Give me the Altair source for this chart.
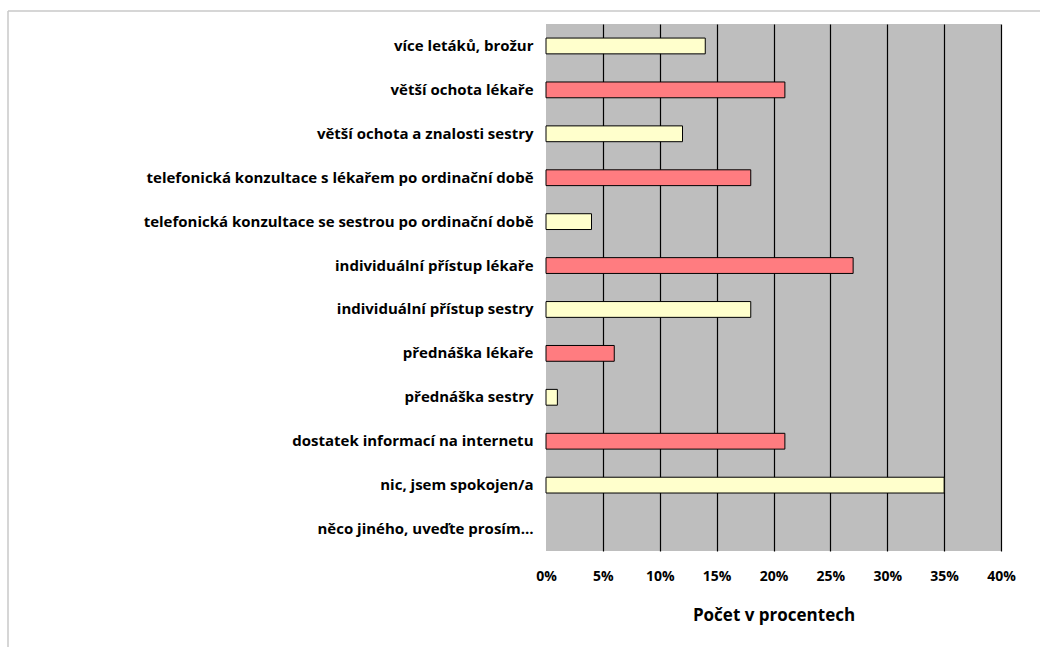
import altair as alt
import pandas as pd

# Survey answers (top to bottom) and share of respondents in percent
answers = [
    "více letáků, brožur",
    "větší ochota lékaře",
    "větší ochota a znalosti sestry",
    "telefonická konzultace s lékařem po ordinační době",
    "telefonická konzultace se sestrou po ordinační době",
    "individuální přístup lékaře",
    "individuální přístup sestry",
    "přednáška lékaře",
    "přednáška sestry",
    "dostatek informací na internetu",
    "nic, jsem spokojen/a",
    "něco jiného, uveďte prosím…",
]
percent = [14, 21, 12, 18, 4, 27, 18, 6, 1, 21, 35, 0]
tick_values = [0, 5, 10, 15, 20, 25, 30, 35, 40]

df = pd.DataFrame({
    "answer": answers,
    "pct": [p / 100 for p in percent],
    "kind": ["a" if i % 2 == 0 else "b" for i in range(len(answers))],
})

FONT = "Open Sans"

bars = alt.Chart(df).mark_bar(strokeWidth=1).encode(
    y=alt.Y(
        "answer:N",
        sort=answers,
        scale=alt.Scale(paddingInner=0.64, paddingOuter=0.32),
        axis=alt.Axis(
            title=None, ticks=False, domain=False, grid=False,
            labelFont=FONT, labelFontWeight="bold", labelFontSize=15,
            labelColor="black", labelPadding=13, labelLimit=600,
        ),
    ),
    x=alt.X(
        "pct:Q",
        scale=alt.Scale(domain=[0, 0.4], nice=False),
        axis=alt.Axis(
            values=[v / 100 for v in tick_values], format=".0%",
            title="Počet v procentech", titleFont=FONT, titleFontWeight="bold",
            titleFontSize=17, titleColor="black", titlePadding=24,
            labelFont=FONT, labelFontWeight="bold", labelFontSize=14,
            labelColor="black", labelPadding=18, labelFlush=False,
            ticks=False, domain=False, grid=True,
            gridColor={"condition": {"test": "datum.value === 0", "value": "transparent"},
                       "value": "black"},
            gridWidth=1.2, gridOpacity=1,
        ),
    ),
    color=alt.Color(
        "kind:N",
        scale=alt.Scale(domain=["a", "b"], range=["#FFFFCC", "#FF7C80"]),
        legend=None,
    ),
    # empty answers get no outline
    stroke=alt.condition("datum.pct > 0", alt.value("black"), alt.value("transparent")),
)

# Light frame around the chart (top and left edges)
frame_top = alt.Chart().mark_rule(color="#C8C8C8", strokeWidth=1.5).encode(
    x=alt.value(-538), x2=alt.value(494), y=alt.value(-13)
)
frame_left = alt.Chart().mark_rule(color="#C8C8C8", strokeWidth=1.5).encode(
    x=alt.value(-538), y=alt.value(-13), y2=alt.value(640)
)

chart = alt.layer(frame_top, frame_left, bars).properties(
    width=455, height=527,
    autosize=alt.AutoSizeParams(type="none"),
    padding={"left": 546, "top": 24, "right": 39, "bottom": 96},
    background="white",
).configure_view(fill="#BEBEBE", stroke=None)

chart.save("out.html", embed_options={"renderer": "svg", "actions": False})
